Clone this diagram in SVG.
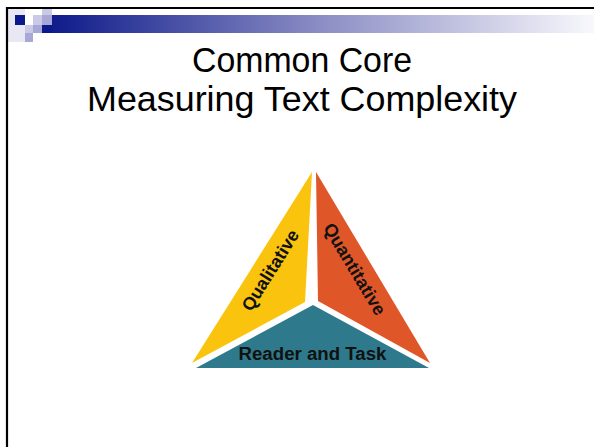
<svg xmlns="http://www.w3.org/2000/svg" width="594" height="447" viewBox="0 0 594 447">
<defs>
<linearGradient id="bar" x1="42" y1="0" x2="594" y2="0" gradientUnits="userSpaceOnUse">
<stop offset="0" stop-color="#0A1888"/>
<stop offset="0.5" stop-color="#8A8CC4"/>
<stop offset="1" stop-color="#F8F8FC"/>
</linearGradient>
<style>
.title{font-family:"Liberation Sans",Arial,sans-serif;font-size:35px;fill:#000;text-anchor:middle}
.lbl{font-family:"Liberation Sans",Arial,sans-serif;font-size:18px;font-weight:bold;fill:#111;text-anchor:middle}
</style>
</defs>
<rect width="594" height="447" fill="#fff"/>
<g id="header">
<rect x="8" y="9" width="17" height="33" fill="#E8E8F4"/>
<rect x="15" y="15" width="10" height="10" fill="#0A1A8C"/>
<rect x="33" y="15" width="9" height="10" fill="#CACAE6"/>
<rect x="25" y="25" width="8" height="8" fill="#CACAE6"/>
<rect x="42" y="15" width="10" height="10" fill="#A8A8D6"/>
<rect x="33" y="25" width="9" height="8" fill="#A8A8D6"/>
<rect x="25" y="33" width="8" height="9" fill="#A8A8D6"/>
<rect x="42" y="9" width="10" height="6" fill="#CACAE6"/>
<rect x="42" y="25" width="10" height="8" fill="#0A1A8C"/>
<rect x="52" y="15" width="542" height="18" fill="url(#bar)"/>
<path d="M7 447 V8 H594" fill="none" stroke="#000" stroke-width="2.2"/>
</g>
<g id="title">
<text class="title" x="302" y="72" textLength="220" lengthAdjust="spacingAndGlyphs">Common Core</text>
<text class="title" x="302" y="111" textLength="430" lengthAdjust="spacingAndGlyphs">Measuring Text Complexity</text>
</g>
<g id="qualitative">
<polygon points="312,172 305,302 192,363" fill="#F9C30E"/>
<text class="lbl" transform="translate(270,270) rotate(-58)" x="0" y="6.5">Qualitative</text>
</g>
<g id="quantitative">
<polygon points="316,172 318,301 430,363" fill="#DF5628"/>
<text class="lbl" transform="translate(355,269) rotate(59)" x="0" y="6.5">Quantitative</text>
</g>
<g id="reader-task">
<polygon points="313,305 196,368 429,368" fill="#2E7A8C"/>
<text class="lbl" x="312.5" y="359.5" textLength="148" lengthAdjust="spacingAndGlyphs">Reader and Task</text>
</g>
<g id="connectors"/>
</svg>
